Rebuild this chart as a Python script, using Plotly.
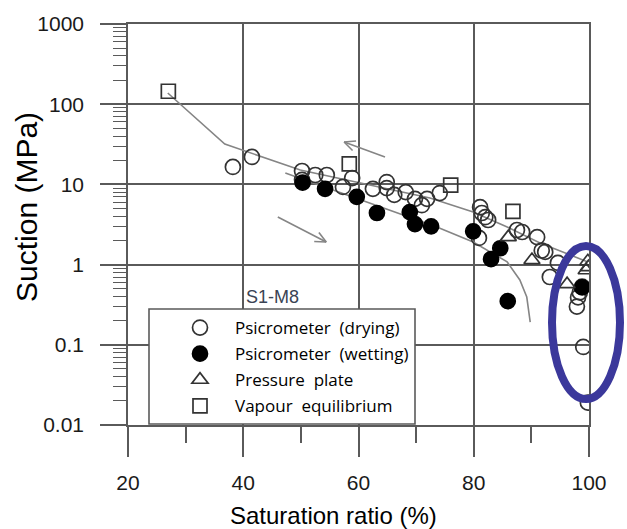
import math
import plotly.graph_objects as go

# ---------------- data ----------------
drying_x = [38.2, 41.5, 50.2, 50.2, 52.5, 54.5, 57.3, 58.9, 62.5, 64.9, 64.9, 66.2,
            68.2, 69.8, 71.0, 71.9, 74.1, 81.1, 81.4, 82.0, 82.5, 80.9, 87.5, 88.4,
            91.0, 92.4, 91.8, 94.6, 93.2, 98.8, 98.4, 98.1, 97.9, 99.0, 99.8]
drying_y = [16.5, 22.0, 14.7, 11.4, 13.1, 13.1, 9.3, 12.0, 8.8, 10.7, 9.0, 7.4,
            8.0, 6.6, 5.5, 6.6, 7.8, 5.2, 4.4, 3.9, 3.6, 2.15, 2.7, 2.55,
            2.2, 1.44, 1.5, 1.05, 0.70, 0.53, 0.45, 0.39, 0.30, 0.094, 0.019]

wetting_x = [50.3, 54.2, 59.7, 63.2, 68.9, 69.8, 72.6, 79.9, 84.6, 83.0, 85.9, 98.8]
wetting_y = [10.5, 8.8, 7.0, 4.4, 4.5, 3.2, 3.0, 2.6, 1.6, 1.17, 0.35, 0.52]

plate_x = [86.0, 90.1, 99.9, 96.2, 99.8, 99.5]
plate_y = [2.2, 1.14, 0.93, 0.57, 1.1, 0.85]

vapour_x = [27.0, 58.4, 76.0, 86.8]
vapour_y = [145, 18, 9.8, 4.6]

# trend lines (gray)
lineA_x = [26.9, 36.8, 49.9, 72.4, 79.9, 85.8, 91.5, 96.7, 99.8]
lineA_y = [138, 31.9, 15.1, 6.77, 4.53, 2.94, 1.86, 1.32, 1.08]
lineB_x = [47.3, 73.6, 79.9, 85.8, 88.0, 89.2, 89.8]
lineB_y = [13.9, 2.94, 1.91, 1.08, 0.643, 0.394, 0.192]

# arrows (tail -> tip)
arrow1_x = [64.6, 57.5]
arrow1_y = [22.0, 33.8]
arrow2_x = [46.0, 54.4]
arrow2_y = [3.93, 1.91]

legend_names = ["Psicrometer  (drying)", "Psicrometer  (wetting)",
                "Pressure  plate", "Vapour  equilibrium"]
x_ticks = [20, 40, 60, 80, 100]
y_ticks = [0.01, 0.1, 1, 10, 100, 1000]
y_ticktext = ["0.01", "0.1", "1", "10", "100", "1000"]
x_title = "Saturation ratio (%)"
y_title = "Suction (MPa)"
panel_label = "S1-M8"

# ---------------- layout geometry ----------------
W, H = 627, 529
L, R, T, B = 128, 38, 24, 104
PW, PH = W - L - R, H - T - B
XR = [20, 100]
YR = [-2, 3]

def to_px(x, y):
    return (L + (x - XR[0]) / (XR[1] - XR[0]) * PW,
            T + PH - (math.log10(y) - YR[0]) / (YR[1] - YR[0]) * PH)

def from_px(px, py):
    x = XR[0] + (px - L) / PW * (XR[1] - XR[0])
    ly = YR[0] + (T + PH - py) / PH * (YR[1] - YR[0])
    return x, 10 ** ly

def paper_x(px):
    return (px - L) / PW

def paper_y(py):
    return (T + PH - py) / PH

def arrow_path(xs, ys, barb=12, ang=25):
    (tx, ty), (hx, hy) = to_px(xs[0], ys[0]), to_px(xs[1], ys[1])
    d = math.atan2(ty - hy, tx - hx)
    pts_x, pts_y = [xs[0], xs[1]], [ys[0], ys[1]]
    for s in (1, -1):
        a = d + s * math.radians(ang)
        bx, by = from_px(hx + barb * math.cos(a), hy + barb * math.sin(a))
        pts_x += [None, xs[1], bx]
        pts_y += [None, ys[1], by]
    return pts_x, pts_y

AX = "#5a5a5a"
LINE = "#858585"
MK = "#333333"

fig = go.Figure()

for lx, ly in [(lineA_x, lineA_y), (lineB_x, lineB_y)]:
    fig.add_trace(go.Scatter(x=lx, y=ly, mode="lines", showlegend=False,
                             line=dict(color=LINE, width=1.6), hoverinfo="skip"))
for ax_, ay_ in [(arrow1_x, arrow1_y), (arrow2_x, arrow2_y)]:
    px_, py_ = arrow_path(ax_, ay_)
    fig.add_trace(go.Scatter(x=px_, y=py_, mode="lines", showlegend=False,
                             line=dict(color=LINE, width=1.6), hoverinfo="skip"))

series = [
    (drying_x, drying_y, legend_names[0], "circle-open", MK, 15),
    (wetting_x, wetting_y, legend_names[1], "circle", "black", 15),
    (plate_x, plate_y, legend_names[2], "triangle-up-open", MK, 14),
    (vapour_x, vapour_y, legend_names[3], "square-open", MK, 14),
]
for i, (sx, sy, name, sym, col, sz) in enumerate(series):
    fig.add_trace(go.Scatter(
        x=sx, y=sy, mode="markers", name=name, legendgroup=f"g{i}",
        marker=dict(symbol=sym, size=sz, color=col,
                    line=dict(width=1.7, color=col))))

minor_y = [m * 10 ** e for e in range(-2, 3) for m in range(2, 10)]

fig.update_layout(
    width=W, height=H,
    margin=dict(l=L, r=R, t=T, b=B),
    paper_bgcolor="white", plot_bgcolor="white",
    font=dict(family="Liberation Sans, Arial, sans-serif", color="#1a1a1a"),
    xaxis=dict(range=XR, tickvals=x_ticks, ticks="outside", ticklen=30,
               tickwidth=1.6, tickcolor=AX, showline=True, linecolor=AX,
               linewidth=1.6, mirror=True, showgrid=True, gridcolor=AX,
               gridwidth=1.6, zeroline=False, tickfont=dict(size=21),
               ticklabelstandoff=8,
               minor=dict(tickvals=[30, 50, 70, 90], ticks="outside", ticklen=16,
                          tickwidth=1.6, tickcolor=AX, showgrid=False)),
    yaxis=dict(type="log", range=YR, tickvals=y_ticks, ticktext=y_ticktext,
               ticks="outside", ticklen=26, tickwidth=1.6, tickcolor=AX,
               showline=True, linecolor=AX, linewidth=1.6, mirror=True,
               showgrid=True, gridcolor=AX, gridwidth=1.6, zeroline=False,
               tickfont=dict(size=21), ticklabelstandoff=12,
               minor=dict(tickvals=minor_y, ticks="outside", ticklen=13,
                          tickwidth=1.4, tickcolor=AX, showgrid=False)),
    showlegend=True,
    legend=dict(x=paper_x(165), y=paper_y(310), xanchor="left", yanchor="top",
                bgcolor="rgba(0,0,0,0)", borderwidth=0, itemwidth=60,
                tracegroupgap=1,
                font=dict(family="Open Sans, sans-serif", size=17, color="black")),
    shapes=[
        dict(type="rect", xref="paper", yref="paper", layer="above",
             x0=paper_x(149), x1=paper_x(415), y0=paper_y(424), y1=paper_y(309),
             fillcolor="white", line=dict(color=AX, width=1.6)),
        dict(type="circle", xref="paper", yref="paper", layer="above",
             x0=paper_x(552), x1=paper_x(620), y0=paper_y(399), y1=paper_y(246),
             line=dict(color="#3b389b", width=8)),
    ],
    annotations=[
        dict(text=panel_label, xref="paper", yref="paper", x=paper_x(272),
             y=paper_y(297), xanchor="center", yanchor="middle", showarrow=False,
             font=dict(size=18, color="#3a4354", family="Liberation Sans, Arial")),
        dict(text=x_title, xref="paper", yref="paper", x=paper_x(333),
             y=paper_y(515), xanchor="center", yanchor="middle", showarrow=False,
             font=dict(size=24, color="black", family="Liberation Sans, Arial")),
        dict(text=y_title, xref="paper", yref="paper", x=paper_x(26),
             y=paper_y(207), xanchor="center", yanchor="middle", showarrow=False,
             textangle=-90,
             font=dict(size=30, color="black", family="Liberation Sans, Arial")),
    ],
)

fig.write_html("out.html")
